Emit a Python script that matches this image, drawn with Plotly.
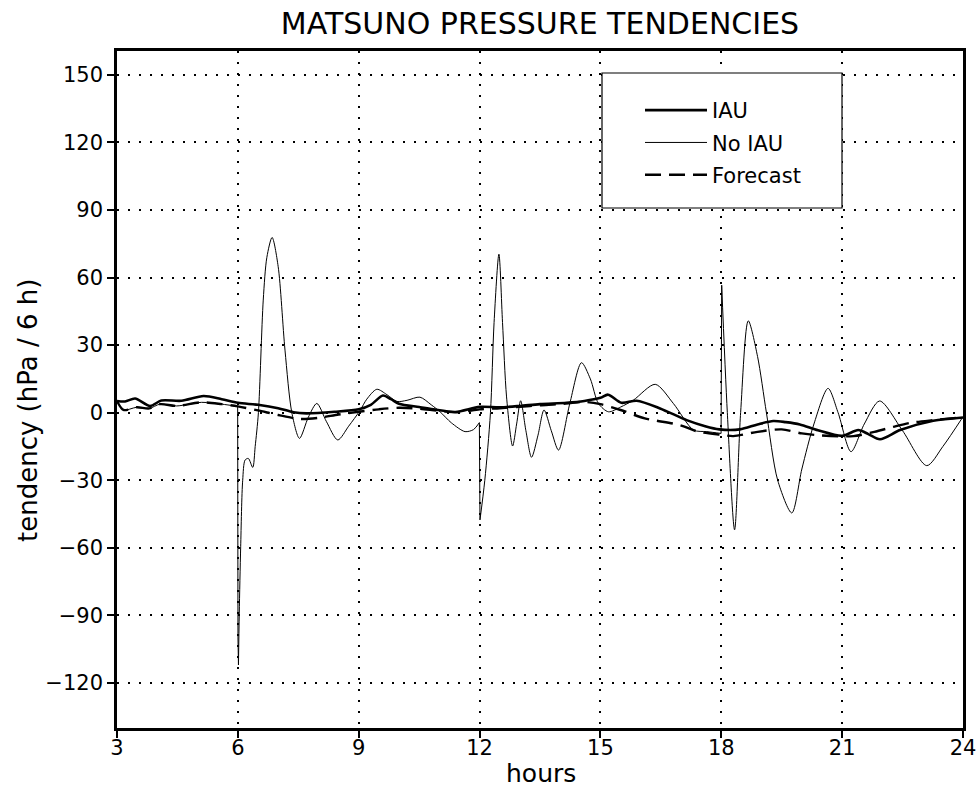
import plotly.graph_objects as go

# ---------------- data ----------------
iau_hours = [3.0, 3.2, 3.45, 3.82, 4.1, 4.6, 5.15, 5.6, 6.0, 6.5, 7.0, 7.38, 7.7, 8.4, 9.0,
             9.3, 9.6, 9.8, 10.0, 10.5, 10.85, 11.4, 12.0, 12.5, 13.0, 13.5, 14.16, 14.6,
             15.0, 15.19, 15.52, 15.9, 16.48, 17.14, 17.6, 17.95, 18.46, 18.9, 19.29, 19.6,
             19.95, 20.4, 21.0, 21.4, 21.65, 21.94, 22.44, 23.26, 24.0]
iau_values = [5.2, 5.0, 6.3, 3.0, 5.4, 5.3, 7.4, 6.0, 4.4, 3.5, 2.0, 0.2, -0.3, 0.4, 1.5,
              3.5, 7.6, 6.0, 4.0, 2.5, 1.5, 0.3, 2.6, 2.4, 3.0, 3.8, 4.4, 5.2,
              6.6, 8.0, 4.4, 5.3, 1.9, -3.3, -6.0, -7.4, -7.4, -5.2, -3.7, -4.2,
              -5.2, -7.8, -10.3, -7.7, -9.5, -11.8, -7.7, -3.6, -2.1]

noiau_hours = [3.0, 3.16, 3.49, 3.8, 4.07, 4.48, 5.1, 5.6, 5.995,
               6.003, 6.015, 6.035, 6.07, 6.12, 6.18, 6.26, 6.37, 6.43, 6.51, 6.63, 6.72,
               6.85, 7.0, 7.17, 7.34, 7.53, 7.75, 7.96, 8.2, 8.48, 8.75, 9.03, 9.2, 9.45,
               9.7, 9.95, 10.2, 10.52, 10.8, 11.02, 11.3, 11.64, 11.85, 11.995,
               12.01, 12.13, 12.27, 12.36, 12.48, 12.57, 12.67, 12.82, 12.92, 13.02, 13.15,
               13.29, 13.45, 13.6, 13.78, 13.96, 14.24, 14.53, 14.75, 14.95, 15.2, 15.5,
               15.82, 16.36, 16.81, 17.31, 17.64, 17.995,
               18.01, 18.15, 18.33, 18.48, 18.67, 18.9, 19.12, 19.4, 19.75, 20.0, 20.3,
               20.65, 20.9, 21.22, 21.55, 21.93, 22.5, 23.1, 23.5, 24.0]
noiau_values = [5.2, 1.2, 2.4, 1.9, 3.8, 3.0, 4.6, 3.8, 2.8,
                -100.0, -112.0, -89.0, -59.5, -30.0, -21.0, -20.3, -24.3, -15.0, 0.0, 50.0, 69.0,
                77.8, 65.0, 27.8, 0.0, -11.4, -2.0, 4.1, -4.0, -12.1, -6.0, 0.9, 6.0, 10.4,
                8.0, 5.0, 5.5, 6.9, 3.5, 0.4, -4.5, -8.4, -7.5, -4.4,
                -47.6, -30.0, 0.0, 40.0, 70.4, 40.0, 7.0, -14.8, -5.0, 5.3, -8.0,
                -19.8, -10.0, 1.2, -8.0, -16.6, 4.1, 22.2, 15.0, 4.1, 0.4, 2.5,
                5.6, 12.6, 4.1, -7.7, -8.4, -9.2,
                56.6, 0.0, -52.0, 0.0, 40.8, 25.0, 0.0, -30.0, -44.5, -25.0, -5.0,
                10.8, 0.0, -17.3, -5.0, 5.2, -8.0, -23.5, -15.0, -1.8]
# hours at which the No-IAU curve has a sharp corner (analysis insertion jumps)
noiau_corners = [5.995, 6.003, 6.015, 11.995, 12.01, 17.995, 18.01]

fc_hours = [3.0, 3.16, 3.49, 3.8, 4.07, 4.48, 5.1, 5.6, 6.0, 6.5, 7.0, 7.54, 8.0, 8.5, 9.0,
            9.5, 10.0, 10.5, 11.0, 11.5, 12.0, 12.5, 13.0, 13.5, 14.0, 14.6, 15.0, 15.5,
            16.1, 16.97, 17.4, 18.0, 18.3, 18.9, 19.5, 20.0, 20.4, 21.28, 21.8, 22.27,
            22.7, 23.26, 24.0]
fc_values = [5.2, 1.2, 2.4, 1.9, 3.8, 3.0, 4.6, 3.8, 2.8, 1.0, -1.0, -2.8, -2.3, -0.8, 0.4,
             1.5, 2.2, 1.8, 0.8, 0.2, 1.5, 2.0, 2.6, 3.3, 3.8, 4.8, 3.8, 1.2,
             -2.5, -5.5, -8.3, -9.8, -10.4, -8.5, -7.4, -9.2, -10.0, -10.4, -8.5, -6.3,
             -4.5, -3.3, -2.0]

series_names = ["IAU", "No IAU", "Forecast"]
x_ticks = [3, 6, 9, 12, 15, 18, 21, 24]
y_ticks = [-120, -90, -60, -30, 0, 30, 60, 90, 120, 150]
y_tick_labels = ["\u2212120", "\u221290", "\u221260", "\u221230", "0", "30", "60", "90", "120", "150"]
title_text = "MATSUNO PRESSURE TENDENCIES"
x_title = "hours"
y_title = "tendency (hPa / 6 h)"

FONT = "DejaVu Sans, sans-serif"

# plot-area geometry (pixels)
W, H = 979, 787
L, R, T, B = 117, 16, 51, 59
PW, PH = W - L - R, H - T - B


def px_x(p):
    return (p - L) / PW


def px_y(p):
    return (H - B - p) / PH


fig = go.Figure()
fig.add_trace(go.Scatter(x=iau_hours, y=iau_values, name=series_names[0], mode="lines",
                         legendgroup="a",
                         line=dict(color="black", width=2.6, shape="spline", smoothing=0.8)))

# No IAU: smooth pieces joined by straight jumps at the corners
corner_idx = [noiau_hours.index(h) for h in noiau_corners]
bounds = [0] + corner_idx + [len(noiau_hours) - 1]
first = True
for a, b in zip(bounds[:-1], bounds[1:]):
    xs = noiau_hours[a:b + 1]
    ys = noiau_values[a:b + 1]
    shape = "spline" if len(xs) > 2 else "linear"
    fig.add_trace(go.Scatter(x=xs, y=ys, name=series_names[1], mode="lines",
                             legendgroup="b", showlegend=first,
                             line=dict(color="black", width=1, shape=shape, smoothing=0.8)))
    first = False

fig.add_trace(go.Scatter(x=fc_hours, y=fc_values, name=series_names[2], mode="lines",
                         legendgroup="c",
                         line=dict(color="black", width=2.4, dash="16px,8px",
                                   shape="spline", smoothing=0.8)))

# legend frame (white box with black border)
fig.add_shape(type="rect", xref="paper", yref="paper",
              x0=px_x(602), x1=px_x(842), y0=px_y(208), y1=px_y(73),
              line=dict(color="black", width=1.2), fillcolor="white", layer="above")

# axis titles as annotations
fig.add_annotation(text=x_title, xref="paper", yref="paper", x=px_x(541), y=px_y(773),
                   xanchor="center", yanchor="middle", showarrow=False,
                   font=dict(size=25, family=FONT, color="black"))
fig.add_annotation(text=y_title, xref="paper", yref="paper", x=px_x(28), y=px_y(411),
                   xanchor="center", yanchor="middle", showarrow=False, textangle=-90,
                   font=dict(size=26, family=FONT, color="black"))

fig.update_layout(
    width=W, height=H,
    margin=dict(l=L, r=R, t=T, b=B, autoexpand=False),
    paper_bgcolor="white", plot_bgcolor="white",
    font=dict(family=FONT, color="black", size=21),
    title=dict(text=title_text, x=0.5, xref="paper", xanchor="center",
               y=1 - 23 / H, yanchor="middle", font=dict(size=30, family=FONT)),
    showlegend=True,
    legend=dict(x=px_x(640), y=px_y(90), xanchor="left", yanchor="top",
                bgcolor="rgba(0,0,0,0)", borderwidth=0, tracegroupgap=2,
                itemwidth=62, font=dict(size=21, family=FONT)),
    xaxis=dict(range=[3, 24], tickvals=x_ticks, ticks="outside", ticklen=7, tickwidth=2,
               tickcolor="black", showline=True, linecolor="black", linewidth=2.6, mirror=True,
               showgrid=True, gridcolor="black", gridwidth=1.6, griddash="2px,9px",
               zeroline=False, tickfont=dict(size=21), automargin=False,
               ticklabelstandoff=-8),
    yaxis=dict(range=[-140, 160.6], tickvals=y_ticks, ticktext=y_tick_labels,
               ticks="outside", ticklen=7, tickwidth=2,
               tickcolor="black", showline=True, linecolor="black", linewidth=2.6, mirror=True,
               showgrid=True, gridcolor="black", gridwidth=1.6, griddash="2px,9px",
               zeroline=False, tickfont=dict(size=21), automargin=False),
)

fig.write_html("out.html")
